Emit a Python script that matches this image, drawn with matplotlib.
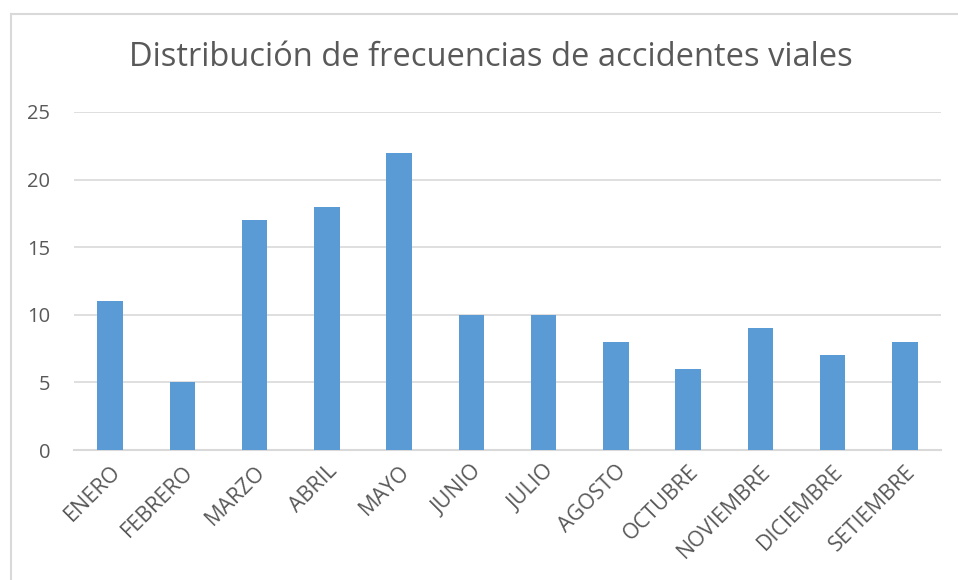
import matplotlib.pyplot as plt
import numpy as np
from matplotlib.lines import Line2D

meses = ["ENERO", "FEBRERO", "MARZO", "ABRIL", "MAYO", "JUNIO", "JULIO",
         "AGOSTO", "OCTUBRE", "NOVIEMBRE", "DICIEMBRE", "SETIEMBRE"]
accidentes = [11, 5, 17, 18, 22, 10, 10, 8, 6, 9, 7, 8]
y_ticks = [0, 5, 10, 15, 20, 25]

plt.rcParams['font.family'] = ['Open Sans', 'DejaVu Sans']
gris = '#595959'

fig = plt.figure(figsize=(9.58, 5.80), dpi=100)
ax = fig.add_axes([74/958, 1 - 450/580, 867/958, 338/580])

# chart border (only left and top visible in the crop)
borde_x = 10.5/958
borde_y = 1 - 13.5/580
fig.add_artist(Line2D([borde_x, borde_x], [0, borde_y], transform=fig.transFigure,
                      color='#D9D9D9', linewidth=1.5))
fig.add_artist(Line2D([borde_x, 1], [borde_y, borde_y], transform=fig.transFigure,
                      color='#D9D9D9', linewidth=1.5))

x = np.arange(len(meses))
ax.bar(x, accidentes, width=0.35, color='#5B9BD5', zorder=3)

ax.set_xlim(-0.5, len(meses) - 0.5)
ax.set_ylim(0, 25)
ax.set_yticks(y_ticks)
ax.set_yticklabels([str(v) for v in y_ticks], fontsize=14.5, color=gris)
ax.set_xticks(x)
ax.set_xticklabels(meses, rotation=45, ha='right', va='top', rotation_mode='anchor',
                   fontsize=15.5, color=gris)
ax.tick_params(axis='both', length=0)
ax.tick_params(axis='y', pad=17)
ax.tick_params(axis='x', pad=8)

ax.grid(axis='y', color='#D9D9D9', linewidth=1.2, zorder=0)
for s in ['top', 'right', 'left']:
    ax.spines[s].set_visible(False)
ax.spines['bottom'].set_color('#D9D9D9')
ax.spines['bottom'].set_linewidth(1.5)

fig.text(491/958, 1 - 57/580, "Distribución de frecuencias de accidentes viales",
         ha='center', va='center', fontsize=23.5, color=gris)

fig.savefig('out.png', dpi=100)
